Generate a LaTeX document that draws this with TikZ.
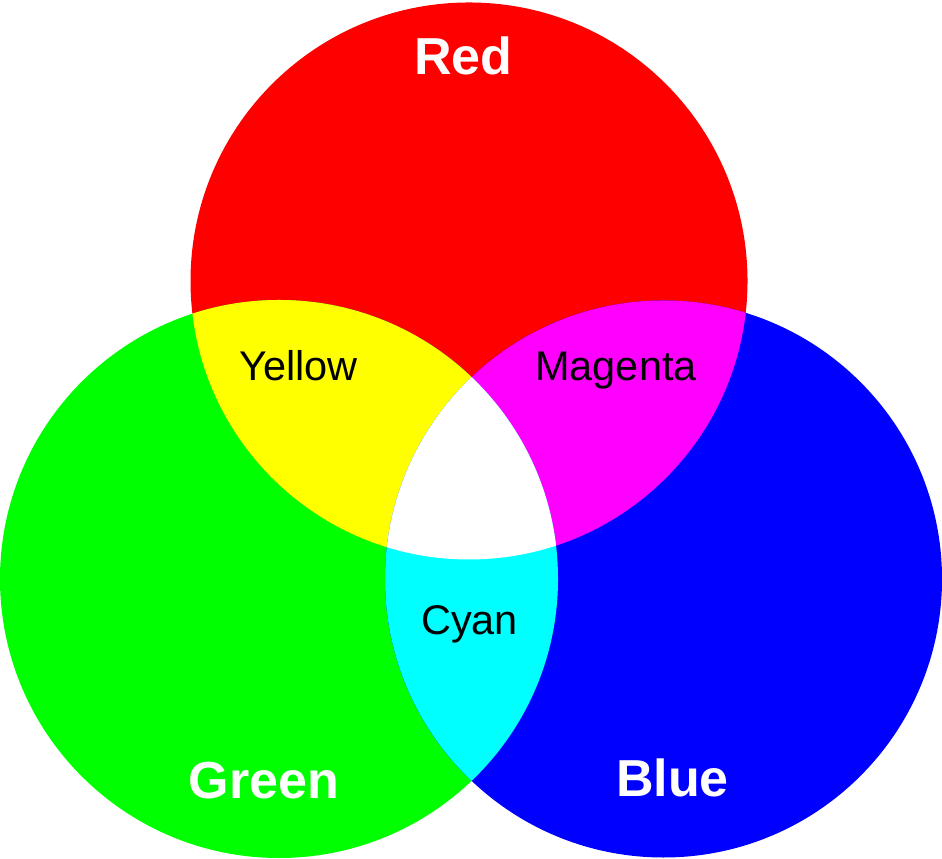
\documentclass[tikz,border=0pt]{standalone}
\usepackage{fontspec}
\setmainfont{Liberation Sans}
\usepackage{xcolor}
\usepackage{tikz}
\usetikzlibrary{positioning}
\definecolor{PureRed}{RGB}{255,0,0}
\definecolor{PureGreen}{RGB}{0,255,0}
\definecolor{PureBlue}{RGB}{0,0,255}
\definecolor{PureYellow}{RGB}{255,255,0}
\definecolor{PureMagenta}{RGB}{255,0,255}
\definecolor{PureCyan}{RGB}{0,255,255}
\def\redc{(4.69,5.77) circle (2.785)}
\def\greenc{(2.79,2.79) circle (2.79)}
\def\bluec{(6.635,2.79) circle (2.785)}
\tikzset{
  primlab/.style={anchor=base, text=white, inner sep=0pt, font=\fontsize{14.8}{16}\selectfont\bfseries},
  mixlab/.style={anchor=base, text=black, inner sep=0pt, font=\fontsize{11.8}{14}\selectfont},
}
\begin{document}
\begin{tikzpicture}
  \useasboundingbox (0,0) rectangle (9.42,8.58);
  % primaries
  \fill[PureRed] \redc;
  \fill[PureGreen] \greenc;
  \fill[PureBlue] \bluec;
  % pairwise overlaps
  \begin{scope}
    \clip \redc;
    \fill[PureYellow] \greenc;
    \fill[PureMagenta] \bluec;
  \end{scope}
  \begin{scope}
    \clip \greenc;
    \fill[PureCyan] \bluec;
  \end{scope}
  % all three
  \begin{scope}
    \clip \redc;
    \clip \greenc;
    \fill[white] \bluec;
  \end{scope}
  % labels
  \node[primlab] (red) at (4.635,7.83) {Red};
  \node[primlab] (green) at (2.64,0.60) {Green};
  \node[primlab] (blue) at (6.725,0.61) {Blue};
  \node[mixlab] (yellow) at (2.985,4.77) {Yellow};
  \node[mixlab] (magenta) at (6.16,4.77) {Magenta};
  \node[mixlab] (cyan) at (4.695,2.23) {Cyan};
\end{tikzpicture}
\end{document}
